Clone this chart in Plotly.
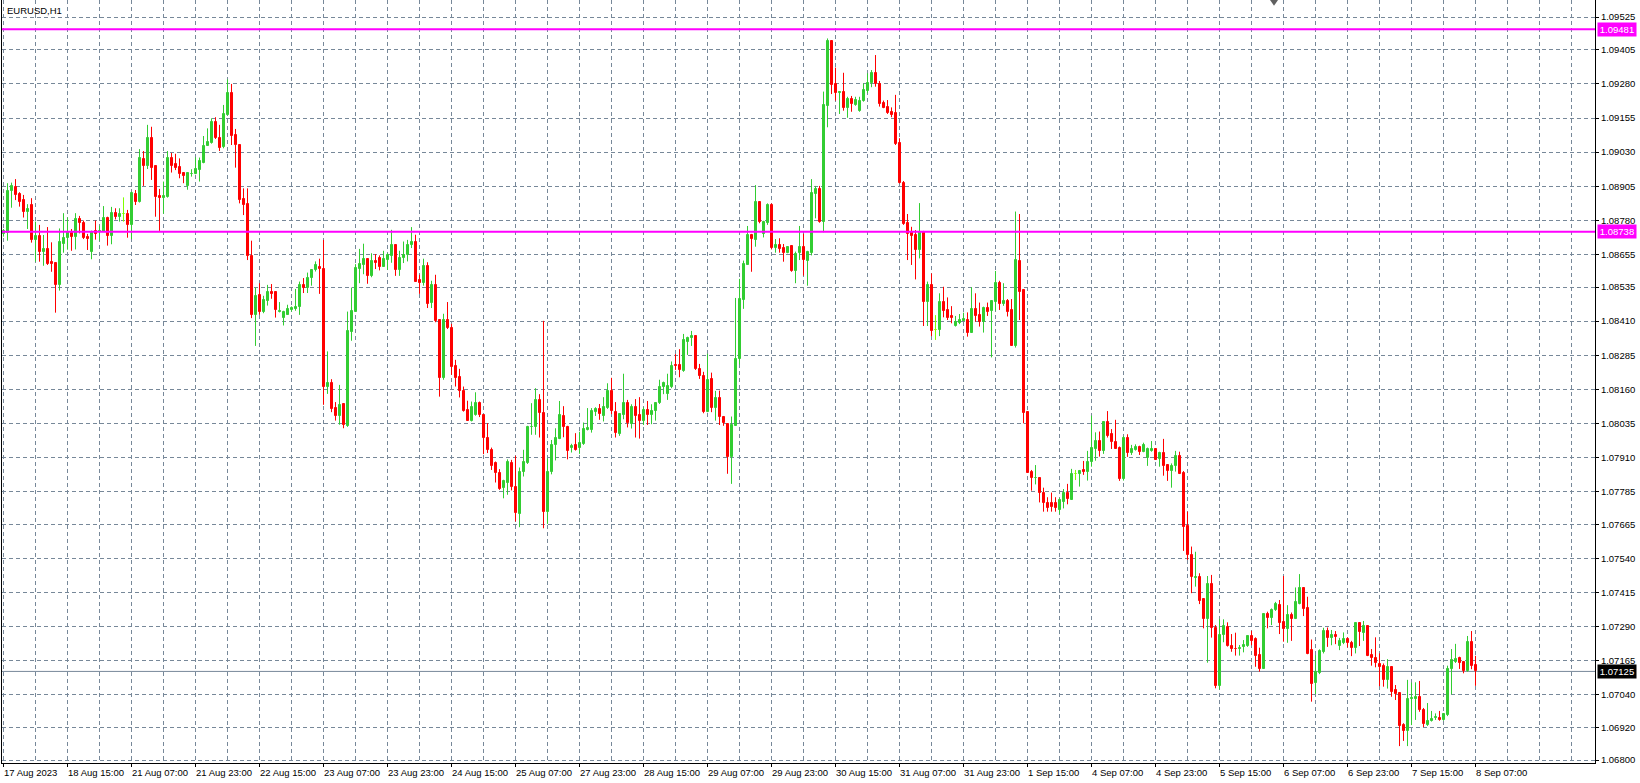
import plotly.graph_objects as go

symbol_title = "EURUSD,H1"

open_ = [
1.08731,1.08732,1.08889,1.08902,1.08878,1.08854,1.08812,1.08836,1.08708,1.08722,
1.08665,1.08675,1.08628,1.08623,1.08543,1.08694,1.08714,1.08735,1.08719,1.08785,
1.08770,1.08719,1.08665,1.08741,1.08738,1.08738,1.08788,1.08722,1.08808,1.08793,
1.08804,1.08802,1.08763,1.08876,1.08848,1.09005,1.08980,1.09082,1.08980,1.08869,
1.08863,1.08865,1.09008,1.08986,1.08975,1.08955,1.08906,1.08949,1.08951,1.08966,
1.08991,1.09054,1.09063,1.09141,1.09082,1.09047,1.09167,1.09247,1.09093,1.09057,
1.08858,1.08840,1.08650,1.08431,1.08506,1.08445,1.08482,1.08516,1.08516,1.08444,
1.08421,1.08433,1.08451,1.08455,1.08460,1.08543,1.08533,1.08568,1.08598,1.08609,
1.08602,1.08170,1.08182,1.08091,1.08063,1.08107,1.08027,1.08370,1.08445,1.08602,
1.08617,1.08639,1.08576,1.08631,1.08641,1.08610,1.08635,1.08648,1.08690,1.08598,
1.08640,1.08651,1.08690,1.08700,1.08562,1.08551,1.08613,1.08476,1.08541,1.08415,
1.08201,1.08415,1.08384,1.08247,1.08206,1.08152,1.08085,1.08045,1.08064,1.08109,
1.08066,1.07983,1.07938,1.07889,1.07852,1.07797,1.07815,1.07889,1.07801,1.07702,
1.07856,1.07889,1.08020,1.08020,1.08121,1.08072,1.07708,1.07855,1.07956,1.07978,
1.08062,1.08023,1.07946,1.07955,1.07943,1.07960,1.08012,1.08012,1.08078,1.08088,
1.08062,1.08092,1.08154,1.08078,1.07996,1.08066,1.08109,1.08033,1.08094,1.08066,
1.08045,1.08084,1.08066,1.08080,1.08109,1.08170,1.08142,1.08170,1.08250,1.08250,
1.08228,1.08335,1.08347,1.08356,1.08234,1.08209,1.08078,1.08198,1.08093,1.08128,
1.08058,1.08033,1.07911,1.08027,1.08272,1.08488,1.08616,1.08726,1.08708,1.08847,
1.08728,1.08769,1.08836,1.08679,1.08689,1.08677,1.08661,1.08685,1.08595,1.08659,
1.08681,1.08632,1.08661,1.08878,1.08893,1.08775,1.09200,1.09438,1.09280,1.09246,
1.09252,1.09193,1.09224,1.09203,1.09182,1.09218,1.09255,1.09282,1.09321,1.09280,
1.09211,1.09194,1.09178,1.09172,1.09062,1.08918,1.08769,1.08738,1.08726,1.08671,
1.08738,1.08481,1.08542,1.08377,1.08377,1.08479,1.08451,1.08429,1.08392,1.08402,
1.08412,1.08414,1.08368,1.08453,1.08432,1.08408,1.08458,1.08447,1.08481,1.08549,
1.08472,1.08484,1.08451,1.08320,1.08631,1.08524,1.08077,1.07858,1.07833,1.07836,
1.07781,1.07744,1.07744,1.07744,1.07717,1.07745,1.07781,1.07755,1.07848,1.07848,
1.07864,1.07858,1.07895,1.07941,1.07970,1.07934,1.08040,1.07995,1.07968,1.07946,
1.07831,1.07983,1.07928,1.07937,1.07947,1.07931,1.07909,1.07934,1.07941,1.07904,
1.07928,1.07882,1.07860,1.07879,1.07915,1.07854,1.07659,1.07552,1.07469,1.07473,
1.07390,1.07316,1.07446,1.07286,1.07073,1.07259,1.07289,1.07220,1.07208,1.07207,
1.07216,1.07218,1.07254,1.07243,1.07185,1.07135,1.07335,1.07321,1.07352,1.07369,
1.07306,1.07280,1.07332,1.07317,1.07374,1.07431,1.07357,1.07203,1.07083,1.07120,
1.07197,1.07273,1.07248,1.07258,1.07219,1.07230,1.07243,1.07228,1.07212,1.07301,
1.07267,1.07291,1.07185,1.07176,1.07154,1.07144,1.07093,1.07142,1.07056,1.07047,
1.06928,1.06906,1.07024,1.07024,1.07032,1.06983,1.06928,1.06943,1.06955,1.06955,
1.06947,1.06965,1.07133,1.07161,1.07175,1.07161,1.07128,1.07232,1.07149,
]

high = [
1.08748,1.08916,1.08918,1.08931,1.08883,1.08873,1.08839,1.08861,1.08775,1.08763,
1.08726,1.08755,1.08699,1.08623,1.08750,1.08806,1.08790,1.08748,1.08806,1.08796,
1.08779,1.08730,1.08742,1.08779,1.08760,1.08832,1.08793,1.08829,1.08824,1.08824,
1.08864,1.08818,1.08885,1.08891,1.09041,1.09034,1.09130,1.09123,1.08980,1.08895,
1.08922,1.09034,1.09027,1.09024,1.09007,1.08955,1.08953,1.08967,1.09011,1.09010,
1.09089,1.09117,1.09154,1.09158,1.09130,1.09203,1.09297,1.09280,1.09115,1.09057,
1.08897,1.08897,1.08705,1.08533,1.08549,1.08503,1.08543,1.08546,1.08516,1.08480,
1.08448,1.08470,1.08464,1.08528,1.08555,1.08568,1.08588,1.08601,1.08629,1.08639,
1.08708,1.08299,1.08197,1.08113,1.08176,1.08109,1.08445,1.08533,1.08619,1.08675,
1.08694,1.08639,1.08659,1.08656,1.08651,1.08668,1.08659,1.08745,1.08692,1.08668,
1.08702,1.08708,1.08755,1.08727,1.08580,1.08639,1.08626,1.08558,1.08580,1.08415,
1.08437,1.08480,1.08400,1.08268,1.08235,1.08170,1.08118,1.08115,1.08149,1.08115,
1.08066,1.08036,1.07946,1.07895,1.07867,1.07828,1.07903,1.07901,1.07916,1.07873,
1.07938,1.08026,1.08109,1.08164,1.08142,1.08411,1.07906,1.07974,1.08017,1.08117,
1.08098,1.08026,1.07960,1.07999,1.08004,1.08038,1.08091,1.08091,1.08094,1.08106,
1.08131,1.08182,1.08202,1.08113,1.08072,1.08217,1.08121,1.08105,1.08124,1.08131,
1.08094,1.08117,1.08105,1.08113,1.08195,1.08188,1.08217,1.08262,1.08289,1.08307,
1.08363,1.08353,1.08374,1.08356,1.08253,1.08224,1.08290,1.08221,1.08154,1.08155,
1.08062,1.08036,1.08060,1.08495,1.08565,1.08632,1.08759,1.08730,1.08909,1.08847,
1.08778,1.08842,1.08842,1.08711,1.08714,1.08693,1.08685,1.08689,1.08665,1.08759,
1.08730,1.08668,1.08931,1.08906,1.08906,1.09252,1.09447,1.09441,1.09340,1.09254,
1.09321,1.09233,1.09236,1.09233,1.09233,1.09282,1.09319,1.09331,1.09386,1.09291,
1.09219,1.09221,1.09194,1.09240,1.09081,1.08924,1.08803,1.08756,1.08744,1.08843,
1.08741,1.08555,1.08585,1.08432,1.08512,1.08536,1.08497,1.08465,1.08429,1.08436,
1.08441,1.08442,1.08534,1.08512,1.08478,1.08463,1.08478,1.08487,1.08594,1.08558,
1.08549,1.08491,1.08491,1.08812,1.08803,1.08524,1.08077,1.07864,1.07882,1.07836,
1.07799,1.07764,1.07781,1.07764,1.07760,1.07794,1.07813,1.07868,1.07864,1.07864,
1.07897,1.07934,1.08063,1.08002,1.08005,1.08040,1.08080,1.08014,1.08048,1.07950,
1.07989,1.07995,1.07956,1.07958,1.07953,1.07964,1.07946,1.07970,1.07944,1.07931,
1.07978,1.07885,1.07888,1.07934,1.07931,1.07860,1.07711,1.07583,1.07564,1.07485,
1.07393,1.07475,1.07479,1.07295,1.07317,1.07316,1.07305,1.07262,1.07267,1.07222,
1.07240,1.07258,1.07274,1.07250,1.07212,1.07335,1.07344,1.07356,1.07380,1.07387,
1.07475,1.07368,1.07341,1.07433,1.07482,1.07433,1.07399,1.07242,1.07185,1.07206,
1.07285,1.07286,1.07277,1.07273,1.07248,1.07268,1.07250,1.07237,1.07301,1.07301,
1.07310,1.07291,1.07207,1.07250,1.07191,1.07154,1.07170,1.07142,1.07075,1.07047,
1.06935,1.07094,1.07084,1.07085,1.07090,1.06991,1.07009,1.06980,1.06971,1.06980,
1.06971,1.07146,1.07207,1.07226,1.07179,1.07163,1.07255,1.07273,1.07182,
]

low = [
1.08720,1.08705,1.08826,1.08854,1.08830,1.08790,1.08748,1.08698,1.08628,1.08628,
1.08613,1.08616,1.08591,1.08441,1.08522,1.08661,1.08672,1.08668,1.08673,1.08732,
1.08711,1.08671,1.08637,1.08709,1.08705,1.08738,1.08687,1.08692,1.08783,1.08775,
1.08775,1.08716,1.08711,1.08836,1.08845,1.08906,1.08968,1.08928,1.08793,1.08741,
1.08804,1.08863,1.08955,1.08964,1.08934,1.08916,1.08892,1.08940,1.08949,1.08922,
1.08989,1.09054,1.09061,1.09078,1.09034,1.09044,1.09164,1.09056,1.08973,1.08842,
1.08799,1.08634,1.08421,1.08319,1.08433,1.08439,1.08467,1.08492,1.08423,1.08442,
1.08394,1.08433,1.08445,1.08448,1.08433,1.08513,1.08513,1.08540,1.08592,1.08510,
1.08103,1.08143,1.08076,1.08045,1.08030,1.08017,1.08022,1.08338,1.08445,1.08549,
1.08582,1.08547,1.08571,1.08601,1.08596,1.08609,1.08598,1.08624,1.08576,1.08576,
1.08623,1.08629,1.08678,1.08555,1.08510,1.08540,1.08458,1.08458,1.08406,1.08133,
1.08195,1.08381,1.08213,1.08170,1.08130,1.08078,1.08045,1.08042,1.08063,1.08058,
1.07922,1.07926,1.07864,1.07818,1.07791,1.07760,1.07773,1.07789,1.07675,1.07654,
1.07840,1.07886,1.07993,1.07993,1.07983,1.07650,1.07666,1.07848,1.07899,1.07977,
1.07984,1.07903,1.07928,1.07935,1.07923,1.07956,1.08009,1.08001,1.08062,1.08048,
1.08042,1.08088,1.08069,1.07983,1.07989,1.08050,1.08020,1.08016,1.07983,1.07979,
1.08029,1.08029,1.08032,1.08045,1.08106,1.08142,1.08121,1.08164,1.08231,1.08204,
1.08224,1.08286,1.08319,1.08231,1.08198,1.08072,1.08076,1.08076,1.08045,1.08029,
1.08026,1.07850,1.07813,1.08026,1.08251,1.08455,1.08616,1.08591,1.08683,1.08769,
1.08717,1.08763,1.08673,1.08661,1.08661,1.08628,1.08659,1.08591,1.08549,1.08634,
1.08577,1.08540,1.08651,1.08787,1.08771,1.08736,1.09121,1.09243,1.09219,1.09170,
1.09182,1.09156,1.09178,1.09200,1.09178,1.09215,1.09246,1.09268,1.09270,1.09197,
1.09191,1.09170,1.09158,1.09056,1.08915,1.08763,1.08634,1.08616,1.08563,1.08640,
1.08392,1.08392,1.08355,1.08341,1.08355,1.08424,1.08414,1.08402,1.08390,1.08399,
1.08410,1.08353,1.08368,1.08408,1.08390,1.08368,1.08429,1.08277,1.08448,1.08451,
1.08466,1.08427,1.08320,1.08313,1.08414,1.08035,1.07854,1.07788,1.07811,1.07745,
1.07711,1.07711,1.07711,1.07711,1.07703,1.07723,1.07738,1.07755,1.07827,1.07803,
1.07846,1.07825,1.07876,1.07898,1.07913,1.07923,1.07983,1.07941,1.07941,1.07824,
1.07825,1.07912,1.07919,1.07935,1.07919,1.07929,1.07879,1.07931,1.07901,1.07876,
1.07843,1.07824,1.07799,1.07858,1.07849,1.07567,1.07534,1.07412,1.07436,1.07372,
1.07283,1.07157,1.07249,1.07063,1.07059,1.07232,1.07216,1.07197,1.07183,1.07183,
1.07195,1.07215,1.07221,1.07142,1.07124,1.07135,1.07283,1.07295,1.07347,1.07262,
1.07234,1.07230,1.07237,1.07317,1.07371,1.07328,1.07188,1.07014,1.07042,1.07115,
1.07191,1.07215,1.07221,1.07225,1.07203,1.07225,1.07213,1.07181,1.07191,1.07218,
1.07237,1.07181,1.07146,1.07140,1.07071,1.07069,1.07062,1.07032,1.07020,1.06851,
1.06870,1.06851,1.06928,1.06947,1.06977,1.06921,1.06925,1.06941,1.06947,1.06944,
1.06944,1.06961,1.07041,1.07156,1.07134,1.07118,1.07124,1.07133,1.07072,
]

close = [
1.08741,1.08887,1.08906,1.08873,1.08848,1.08812,1.08821,1.08708,1.08722,1.08665,
1.08676,1.08621,1.08621,1.08543,1.08700,1.08716,1.08738,1.08719,1.08785,1.08770,
1.08715,1.08711,1.08738,1.08731,1.08742,1.08788,1.08722,1.08808,1.08792,1.08802,
1.08804,1.08763,1.08879,1.08848,1.09008,1.08979,1.09082,1.08973,1.08867,1.08863,
1.08868,1.09008,1.08979,1.08972,1.08950,1.08944,1.08953,1.08951,1.08968,1.08998,
1.09054,1.09068,1.09141,1.09083,1.09046,1.09170,1.09247,1.09089,1.09057,1.08854,
1.08836,1.08650,1.08431,1.08503,1.08445,1.08488,1.08516,1.08511,1.08449,1.08447,
1.08442,1.08455,1.08458,1.08462,1.08543,1.08533,1.08569,1.08598,1.08617,1.08603,
1.08170,1.08182,1.08088,1.08063,1.08103,1.08030,1.08374,1.08447,1.08604,1.08619,
1.08639,1.08576,1.08631,1.08625,1.08610,1.08639,1.08651,1.08690,1.08598,1.08641,
1.08651,1.08690,1.08702,1.08555,1.08549,1.08613,1.08473,1.08541,1.08411,1.08201,
1.08414,1.08384,1.08241,1.08203,1.08152,1.08081,1.08045,1.08094,1.08109,1.08064,
1.07981,1.07938,1.07880,1.07852,1.07793,1.07822,1.07892,1.07800,1.07705,1.07856,
1.07894,1.08022,1.08023,1.08121,1.08072,1.07709,1.07857,1.07956,1.07980,1.08065,
1.08021,1.07932,1.07952,1.07938,1.07962,1.08014,1.08018,1.08081,1.08088,1.08069,
1.08094,1.08154,1.08080,1.07999,1.08069,1.08109,1.08036,1.08094,1.08062,1.08045,
1.08084,1.08066,1.08081,1.08110,1.08168,1.08182,1.08172,1.08247,1.08246,1.08229,
1.08341,1.08347,1.08356,1.08234,1.08207,1.08078,1.08195,1.08093,1.08128,1.08058,
1.08036,1.07911,1.08029,1.08272,1.08492,1.08620,1.08726,1.08710,1.08847,1.08774,
1.08774,1.08836,1.08679,1.08689,1.08675,1.08661,1.08683,1.08595,1.08656,1.08681,
1.08634,1.08665,1.08880,1.08893,1.08775,1.09203,1.09438,1.09276,1.09248,1.09252,
1.09193,1.09224,1.09206,1.09221,1.09218,1.09258,1.09282,1.09321,1.09279,1.09206,
1.09193,1.09175,1.09166,1.09060,1.08918,1.08766,1.08730,1.08723,1.08671,1.08738,
1.08481,1.08542,1.08374,1.08377,1.08479,1.08447,1.08420,1.08420,1.08408,1.08414,
1.08417,1.08368,1.08453,1.08429,1.08408,1.08458,1.08445,1.08484,1.08549,1.08473,
1.08484,1.08445,1.08320,1.08634,1.08518,1.08074,1.07854,1.07833,1.07836,1.07778,
1.07742,1.07726,1.07727,1.07726,1.07752,1.07781,1.07756,1.07849,1.07848,1.07860,
1.07858,1.07895,1.07944,1.07970,1.07934,1.08040,1.07990,1.07966,1.07941,1.07831,
1.07983,1.07928,1.07941,1.07947,1.07931,1.07956,1.07941,1.07941,1.07901,1.07928,
1.07880,1.07860,1.07879,1.07915,1.07849,1.07656,1.07552,1.07473,1.07473,1.07385,
1.07316,1.07446,1.07286,1.07073,1.07259,1.07292,1.07220,1.07207,1.07206,1.07212,
1.07222,1.07254,1.07237,1.07181,1.07135,1.07335,1.07321,1.07352,1.07372,1.07303,
1.07280,1.07332,1.07317,1.07379,1.07431,1.07354,1.07188,1.07078,1.07124,1.07201,
1.07273,1.07248,1.07258,1.07252,1.07236,1.07243,1.07228,1.07212,1.07301,1.07270,
1.07291,1.07182,1.07176,1.07157,1.07142,1.07093,1.07142,1.07050,1.07042,1.06924,
1.06906,1.07024,1.07026,1.07032,1.06983,1.06932,1.06943,1.06950,1.06959,1.06947,
1.06969,1.07134,1.07167,1.07171,1.07155,1.07128,1.07232,1.07146,1.07125,
]

time_labels = [
    "17 Aug 2023", "18 Aug 15:00", "21 Aug 07:00", "21 Aug 23:00", "22 Aug 15:00",
    "23 Aug 07:00", "23 Aug 23:00", "24 Aug 15:00", "25 Aug 07:00", "27 Aug 23:00",
    "28 Aug 15:00", "29 Aug 07:00", "29 Aug 23:00", "30 Aug 15:00", "31 Aug 07:00",
    "31 Aug 23:00", "1 Sep 15:00", "4 Sep 07:00", "4 Sep 23:00", "5 Sep 15:00",
    "6 Sep 07:00", "6 Sep 23:00", "7 Sep 15:00", "8 Sep 07:00",
]

price_ticks = [
    1.09525, 1.09405, 1.09280, 1.09155, 1.09030, 1.08905, 1.08780, 1.08655,
    1.08535, 1.08410, 1.08285, 1.08160, 1.08035, 1.07910, 1.07785, 1.07665,
    1.07540, 1.07415, 1.07290, 1.07165, 1.07040, 1.06920, 1.06800,
]

level_lines = [1.09481, 1.08738]
last_price = 1.07125

n = len(open_)
assert len(high) == n and len(low) == n and len(close) == n, (len(open_), len(high), len(low), len(close))

UP = "#32CD32"
DOWN = "#FF0000"
DOJI = "#7FFF00"
GRID = "#778899"
MAGENTA = "#FF00FF"
FONT = "Liberation Sans, Arial, sans-serif"

bars_per_label = 16
bars_per_grid = 8

groups = {UP: [], DOWN: [], DOJI: []}
for i in range(n):
    if close[i] > open_[i]:
        groups[UP].append(i)
    elif close[i] < open_[i]:
        groups[DOWN].append(i)
    else:
        groups[DOJI].append(i)

fig = go.Figure()

for color, idx in groups.items():
    wx, wy = [], []
    for i in idx:
        wx += [i, i, None]
        wy += [low[i], high[i], None]
    fig.add_trace(go.Scatter(x=wx, y=wy, mode="lines",
                             line=dict(color=color, width=1),
                             hoverinfo="skip", showlegend=False))

for color, idx in groups.items():
    fig.add_trace(go.Bar(
        x=idx,
        base=[min(open_[i], close[i]) for i in idx],
        y=[abs(close[i] - open_[i]) for i in idx],
        width=0.5,
        marker=dict(color=color, line=dict(color=color, width=1)),
        hoverinfo="skip", showlegend=False,
    ))

label_pos = [k * bars_per_label for k in range(len(time_labels))]

shapes = []
shapes.append(dict(type="line", xref="paper", x0=0, x1=1, yref="y",
                   y0=last_price, y1=last_price,
                   line=dict(color=GRID, width=1), layer="below"))
for lv in level_lines:
    shapes.append(dict(type="line", xref="paper", x0=0, x1=1, yref="y",
                       y0=lv, y1=lv, line=dict(color=MAGENTA, width=2),
                       layer="above"))
# chart-shift marker at the top
shapes.append(dict(type="path", xref="paper", yref="paper",
                   path="M 0.7960 1.0 L 0.8010 1.0 L 0.7985 0.9925 Z",
                   fillcolor="#606060", line=dict(width=0)))

annotations = []
annotations.append(dict(text=symbol_title, xref="paper", x=0, xanchor="left", xshift=3,
                        yref="paper", y=1, yanchor="top", yshift=-3, showarrow=False,
                        font=dict(family=FONT, size=9.5, color="black")))
for pos, lab in zip(label_pos, time_labels):
    annotations.append(dict(text=lab, xref="x", x=pos, xanchor="left", xshift=-2,
                            yref="paper", y=0, yanchor="top", yshift=-2,
                            showarrow=False,
                            font=dict(family=FONT, size=9.5, color="black")))
for lv in level_lines:
    annotations.append(dict(text=f"{lv:.5f}", xref="paper", x=1, xanchor="left", xshift=2,
                            yref="y", y=lv, yanchor="middle", showarrow=False,
                            bgcolor=MAGENTA, borderpad=1, width=36, align="center",
                            font=dict(family=FONT, size=9.5, color="white")))
annotations.append(dict(text=f"{last_price:.5f}", xref="paper", x=1, xanchor="left", xshift=2,
                        yref="y", y=last_price, yanchor="middle", showarrow=False,
                        bgcolor="black", borderpad=1, width=36, align="center",
                        font=dict(family=FONT, size=9.5, color="white")))

fig.update_layout(
    width=1640, height=783,
    margin=dict(l=2, r=45, t=0, b=20, autoexpand=False),
    paper_bgcolor="white", plot_bgcolor="white",
    showlegend=False, barmode="overlay", bargap=0,
    font=dict(family=FONT, size=9.5, color="black"),
    hovermode=False,
    shapes=shapes, annotations=annotations,
)

fig.update_xaxes(
    range=[-0.375, 397.875], tickmode="array", tickvals=label_pos,
    showticklabels=False, ticks="outside", ticklen=3, tickcolor="black", tickwidth=1,
    showgrid=True, gridcolor=GRID, gridwidth=1, griddash="4px,3px",
    minor=dict(tickmode="linear", tick0=0, dtick=bars_per_grid, showgrid=True,
               gridcolor=GRID, gridwidth=1, griddash="4px,3px", ticks=""),
    showline=True, linecolor="black", linewidth=1, zeroline=False,
    fixedrange=True, automargin=False,
)
fig.update_yaxes(
    range=[1.06789, 1.09588], side="right", tickmode="array", tickvals=price_ticks,
    ticktext=[f"{v:.5f}" for v in price_ticks],
    ticks="outside", ticklen=3, tickcolor="black", tickwidth=1,
    tickfont=dict(family=FONT, size=9.5, color="black"),
    showgrid=True, gridcolor=GRID, gridwidth=1, griddash="4px,3px",
    showline=True, mirror=True, linecolor="black", linewidth=1, zeroline=False,
    fixedrange=True, automargin=False,
)

fig.write_html("out.html", config={"displayModeBar": False},
               post_script="document.body.style.margin='0';document.body.style.overflow='hidden';")
